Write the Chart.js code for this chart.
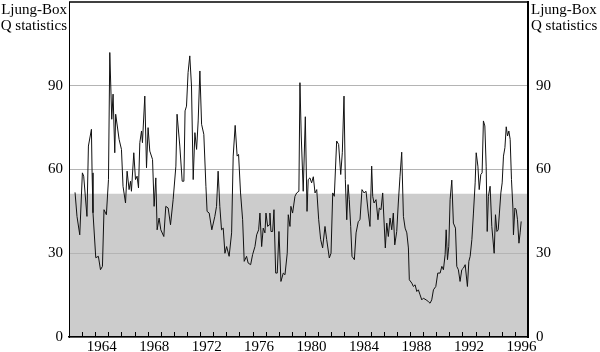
<!DOCTYPE html>
<html>
<head>
<meta charset="utf-8">
<script src="https://cdn.jsdelivr.net/npm/chart.js@4.4.0/dist/chart.umd.min.js"></script>
<style>
  html, body { margin: 0; padding: 0; background: #fff; }
</style>
</head>
<body>
<canvas id="qChart" width="600" height="352"></canvas>
<script>
// Ljung-Box Q statistics

const years = [
  1962.46, 1962.61, 1962.82, 1963.02, 1963.12, 1963.37, 1963.48, 1963.71, 1963.76, 1963.83,
  1964.04, 1964.24, 1964.40, 1964.55, 1964.67, 1964.85, 1965.01, 1965.11, 1965.26, 1965.36,
  1965.49, 1965.56, 1965.82, 1966.00, 1966.12, 1966.31, 1966.43, 1966.58, 1966.69, 1966.76,
  1966.94, 1967.07, 1967.19, 1967.30, 1967.40, 1967.53, 1967.60, 1967.78, 1967.91, 1968.03,
  1968.16, 1968.37, 1968.49, 1968.62, 1968.72, 1968.87, 1969.00, 1969.23, 1969.38, 1969.56,
  1969.74, 1969.94, 1970.15, 1970.24, 1970.45, 1970.63, 1970.76, 1970.85, 1970.96, 1971.08,
  1971.21, 1971.34, 1971.47, 1971.60, 1971.73, 1971.85, 1971.98, 1972.11, 1972.28, 1972.44,
  1972.53, 1972.69, 1972.89, 1973.12, 1973.25, 1973.37, 1973.50, 1973.63, 1973.76, 1973.89,
  1974.02, 1974.21, 1974.40, 1974.52, 1974.67, 1974.82, 1974.93, 1975.08, 1975.24, 1975.36,
  1975.54, 1975.66, 1975.85, 1976.00, 1976.18, 1976.31, 1976.46, 1976.56, 1976.69, 1976.81,
  1976.94, 1977.02, 1977.15, 1977.27, 1977.32, 1977.40, 1977.53, 1977.63, 1977.76, 1977.88,
  1978.01, 1978.16, 1978.34, 1978.47, 1978.64, 1978.72, 1978.85, 1978.92, 1979.05, 1979.23,
  1979.36, 1979.53, 1979.61, 1979.71, 1979.86, 1980.02, 1980.15, 1980.24, 1980.37, 1980.50,
  1980.63, 1980.76, 1980.89, 1981.04, 1981.19, 1981.34, 1981.52, 1981.65, 1981.85, 1981.98,
  1982.11, 1982.23, 1982.41, 1982.56, 1982.72, 1982.84, 1982.97, 1983.07, 1983.18, 1983.28,
  1983.37, 1983.48, 1983.58, 1983.76, 1983.89, 1984.06, 1984.19, 1984.34, 1984.50, 1984.65,
  1984.82, 1984.95, 1985.08, 1985.16, 1985.26, 1985.41, 1985.56, 1985.66, 1985.79, 1985.92,
  1986.12, 1986.23, 1986.35, 1986.48, 1986.61, 1986.73, 1986.84, 1986.99, 1987.11, 1987.24,
  1987.37, 1987.50, 1987.63, 1987.76, 1987.88, 1987.95, 1988.14, 1988.26, 1988.39, 1988.52,
  1988.64, 1988.77, 1988.90, 1989.02, 1989.23, 1989.40, 1989.53, 1989.66, 1989.79, 1989.97,
  1990.12, 1990.30, 1990.43, 1990.55, 1990.68, 1990.76, 1990.86, 1990.96, 1991.06, 1991.19,
  1991.31, 1991.47, 1991.57, 1991.69, 1991.82, 1991.95, 1992.08, 1992.21, 1992.38, 1992.49,
  1992.59, 1992.72, 1992.84, 1992.97, 1993.05, 1993.18, 1993.28, 1993.40, 1993.50, 1993.60,
  1993.71, 1993.81, 1993.89, 1993.98, 1994.11, 1994.24, 1994.42, 1994.52, 1994.63, 1994.73,
  1994.82, 1994.93, 1995.03, 1995.13, 1995.24, 1995.34, 1995.44, 1995.54, 1995.64, 1995.74,
  1995.85, 1995.89, 1996.00, 1996.10, 1996.20, 1996.31, 1996.40, 1996.48
];

const qStats = [
  51.8, 43.2, 36.6, 58.8, 57.6, 43.2, 68.4, 74.4, 58.8, 44.5,
  28.4, 28.9, 24.1, 25.3, 45.6, 43.8, 56.4, 101.9, 78, 87,
  66, 79.8, 70.8, 67.2, 54, 48, 59.4, 52.8, 55.8, 52.2,
  66, 56.4, 57.6, 53.4, 69.6, 73.8, 69.6, 86.3, 60.6, 75,
  66.6, 63.6, 46.8, 57, 38.4, 42.6, 38.4, 36, 46.8, 46.2,
  40.2, 49.2, 61.2, 79.8, 68.4, 55.8, 55.8, 81, 82.7, 94.7,
  100.7, 89.9, 56.4, 73.2, 67.2, 77.4, 95.3, 76.2, 72.6, 54,
  45, 44.4, 38.4, 43.2, 46.8, 59.4, 46.8, 38.4, 39, 30,
  32.4, 28.9, 37.3, 64.8, 75.8, 64.8, 65.4, 51.6, 42, 27.1,
  28.9, 26.5, 25.9, 29.5, 32.4, 36.6, 38.4, 44.4, 32.4, 39,
  37.3, 44.4, 39.6, 40.2, 44.4, 37.8, 37.8, 45.6, 22.9, 22.9,
  37.8, 19.9, 22.9, 22.3, 30, 43.8, 39.6, 46.8, 44.4, 50.4,
  51.6, 52.2, 91.1, 72, 52.2, 78.9, 45, 56.4, 57, 55.2,
  57.4, 51.6, 52.8, 42, 34.9, 31.9, 39.6, 34.9, 28.3, 30,
  51.6, 50.4, 70.2, 69, 58.2, 66, 86.3, 56.4, 42, 54.6,
  49.2, 39.6, 28.9, 27.7, 37.3, 41.4, 42, 52.8, 51.6, 52.2,
  44.4, 39.6, 61.2, 50.4, 48, 49.2, 42, 46.2, 45.6, 51.6,
  31.9, 40.8, 36, 42.6, 38.4, 44.4, 33, 37.8, 48, 57.6,
  66.2, 43.2, 39, 37.3, 31.9, 20.5, 19.3, 18.1, 18.7, 16.3,
  16.9, 15.1, 13.3, 13.9, 13.3, 12.7, 12.1, 13.3, 16.9, 18.1,
  22.9, 22.9, 25.3, 24.1, 29.5, 38.4, 27.7, 32.4, 49.2, 56.2,
  40.8, 39, 25.3, 24.1, 19.9, 24.1, 24.7, 25.9, 18.1, 27.1,
  28.9, 34.9, 44.4, 55.2, 66, 61.2, 52.8, 58.2, 58.8, 77.4,
  75.6, 61.2, 37.8, 50.4, 54, 39.6, 30, 43.8, 37.8, 38.4,
  44.4, 51.6, 55.2, 64.8, 67.8, 75.3, 72, 73.8, 70.8, 56.4,
  46.2, 36.6, 46.2, 45.6, 42, 33.6, 37.3, 41.4
];

// shaded band from 0 up to this level, across the whole axis
const shadeLevel = 51.3;
const shadeYears = [1962, 1997];

const yTickValues = [0, 30, 60, 90];
const xLabelYears = [1964, 1968, 1972, 1976, 1980, 1984, 1988, 1992, 1996];
const axisTitle = ['Ljung-Box', 'Q statistics'];

const FONT = "'Liberation Serif', 'Times New Roman', serif";

// year tick marks pointing up into the plot, frame top, and the two axis titles
const decorations = {
  id: 'decorations',
  afterDatasetsDraw(chart) {
    const { ctx, chartArea, scales } = chart;
    const x = scales.x;
    ctx.save();
    ctx.strokeStyle = '#000';
    ctx.lineWidth = 1;
    ctx.beginPath();
    x.ticks.forEach(t => {
      if (t.value <= x.min || t.value >= x.max) return;
      const px = Math.round(x.getPixelForValue(t.value)) + 0.5;
      ctx.moveTo(px, chartArea.bottom);
      ctx.lineTo(px, chartArea.bottom - 5);
    });
    ctx.stroke();
    ctx.lineWidth = 1.5;
    ctx.beginPath();
    ctx.moveTo(chartArea.left, chartArea.top);
    ctx.lineTo(chartArea.right, chartArea.top);
    ctx.stroke();
    ctx.restore();
  },
  afterDraw(chart) {
    const { ctx, chartArea } = chart;
    ctx.save();
    ctx.font = '15px ' + FONT;
    ctx.fillStyle = '#000';
    ctx.textBaseline = 'alphabetic';
    ctx.textAlign = 'right';
    ctx.fillText(axisTitle[0], chartArea.left - 2, 14);
    ctx.fillText(axisTitle[1], chartArea.left - 2, 30);
    ctx.textAlign = 'left';
    ctx.fillText(axisTitle[0], chartArea.right + 3, 14);
    ctx.fillText(axisTitle[1], chartArea.right + 3, 30);
    ctx.restore();
  }
};

const setYTicks = scale => { scale.ticks = yTickValues.map(v => ({ value: v })); };
const fitY = w => s => {
  s.width = w;
  s.paddingTop = 0;
  s.paddingBottom = 0;
};

new Chart(document.getElementById('qChart'), {
  type: 'line',
  data: {
    datasets: [
      {
        data: years.map((yr, i) => ({ x: yr, y: qStats[i] })),
        borderColor: '#111',
        borderWidth: 1,
        pointRadius: 0,
        tension: 0,
        fill: false
      },
      {
        data: shadeYears.map(yr => ({ x: yr, y: shadeLevel })),
        borderWidth: 0,
        borderColor: 'rgba(0,0,0,0)',
        backgroundColor: '#cccccc',
        pointRadius: 0,
        fill: 'origin'
      }
    ]
  },
  options: {
    responsive: false,
    animation: false,
    devicePixelRatio: 1,
    layout: { padding: { top: 2, left: 0, right: 0, bottom: 0 } },
    plugins: {
      legend: { display: false },
      tooltip: { enabled: false },
      filler: { drawTime: 'beforeDraw' }
    },
    scales: {
      x: {
        type: 'linear',
        min: 1962,
        max: 1997,
        afterFit: s => {
          s.height = 15;
          s.paddingLeft = 0;
          s.paddingRight = 0;
        },
        grid: { display: false, drawTicks: false },
        border: { display: true, color: '#000', width: 1.5 },
        ticks: {
          stepSize: 1,
          autoSkip: false,
          maxRotation: 0,
          padding: 1,
          labelOffset: 6.5,
          color: '#000',
          font: { family: FONT, size: 15 },
          callback: v => (xLabelYears.includes(v) ? String(v) : '')
        }
      },
      y: {
        position: 'left',
        min: 0,
        max: 120,
        afterBuildTicks: setYTicks,
        afterFit: fitY(69),
        grid: { color: '#b4b4b4', lineWidth: 1, drawTicks: false },
        border: { display: true, color: '#000', width: 1 },
        ticks: {
          padding: 6,
          color: '#000',
          font: { family: FONT, size: 15 }
        }
      },
      y2: {
        position: 'right',
        min: 0,
        max: 120,
        afterBuildTicks: setYTicks,
        afterFit: fitY(72),
        grid: { display: false, drawTicks: false },
        border: { display: true, color: '#000', width: 2 },
        ticks: {
          padding: 8,
          color: '#000',
          font: { family: FONT, size: 15 }
        }
      }
    }
  },
  plugins: [decorations]
});
</script>
</body>
</html>
